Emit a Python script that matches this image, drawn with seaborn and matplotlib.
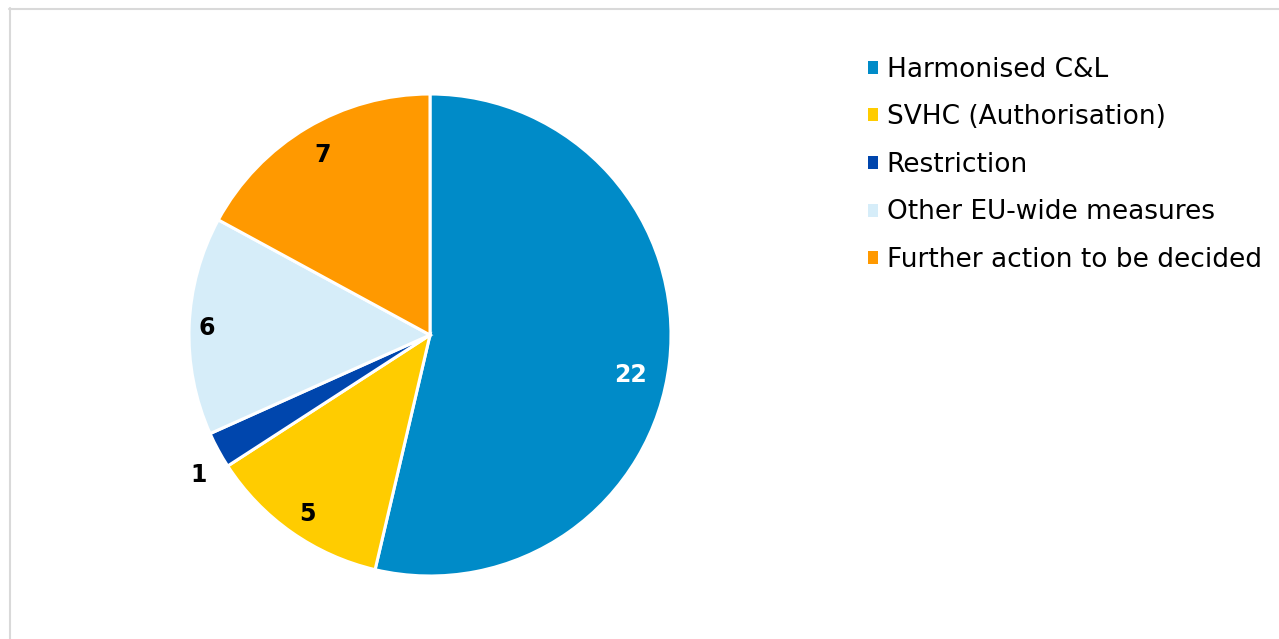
import matplotlib
matplotlib.use("Agg")
import matplotlib.pyplot as plt
import seaborn as sns
import numpy as np
from matplotlib.patches import Patch
from matplotlib.lines import Line2D

categories = ["Harmonised C&L", "SVHC (Authorisation)", "Restriction",
              "Other EU-wide measures", "Further action to be decided"]
values = [22, 5, 1, 6, 7]
colors = ["#008BC8", "#FFCC00", "#0046AD", "#D6EDF9", "#FF9900"]
label_colors = ["white", "black", "black", "black", "black"]
label_radius = [0.85, 0.90, 1.12, 0.925, 0.87]
label_angle_offset = [-4.7, 0.8, 2.6, 0.5, 0.0]

sns.set_theme(style="white")
plt.rcParams['font.family'] = ['DejaVu Sans']

W, H = 1279, 639
fig = plt.figure(figsize=(W / 100, H / 100), dpi=100)
cx, cy, r = 430, 335, 241
ax = fig.add_axes([(cx - r) / W, (H - cy - r) / H, 2 * r / W, 2 * r / H])

wedges, _ = ax.pie(values, colors=colors, startangle=90, counterclock=False,
                   wedgeprops=dict(edgecolor="white", linewidth=2.2), radius=1)
ax.set_xlim(-1, 1)
ax.set_ylim(-1, 1)
ax.set_aspect("equal")
ax.axis("off")

for w, v, c, lr, off in zip(wedges, values, label_colors, label_radius, label_angle_offset):
    ang = np.deg2rad((w.theta1 + w.theta2) / 2 + off)
    ax.text(lr * np.cos(ang), lr * np.sin(ang), str(v), ha="center", va="center",
            fontsize=17, fontweight="bold", color=c)

handles = [Patch(facecolor=c, edgecolor="none") for c in colors]
leg = fig.legend(handles, categories, loc="upper left",
                 bbox_to_anchor=(857 / W, 1 - 46 / H), frameon=False,
                 fontsize=19, handlelength=0.38, handleheight=0.38,
                 handletextpad=0.34, labelspacing=0.82, borderaxespad=0)
for t in leg.get_texts():
    t.set_color("black")

# light frame border
fig.add_artist(Line2D([9.5 / W, 9.5 / W], [0, 1 - 8 / H], color="#D9D9D9", lw=1.5,
                      transform=fig.transFigure))
fig.add_artist(Line2D([9 / W, 1], [1 - 8.5 / H, 1 - 8.5 / H], color="#D9D9D9", lw=1.5,
                      transform=fig.transFigure))

fig.savefig("out.png", dpi=100)
